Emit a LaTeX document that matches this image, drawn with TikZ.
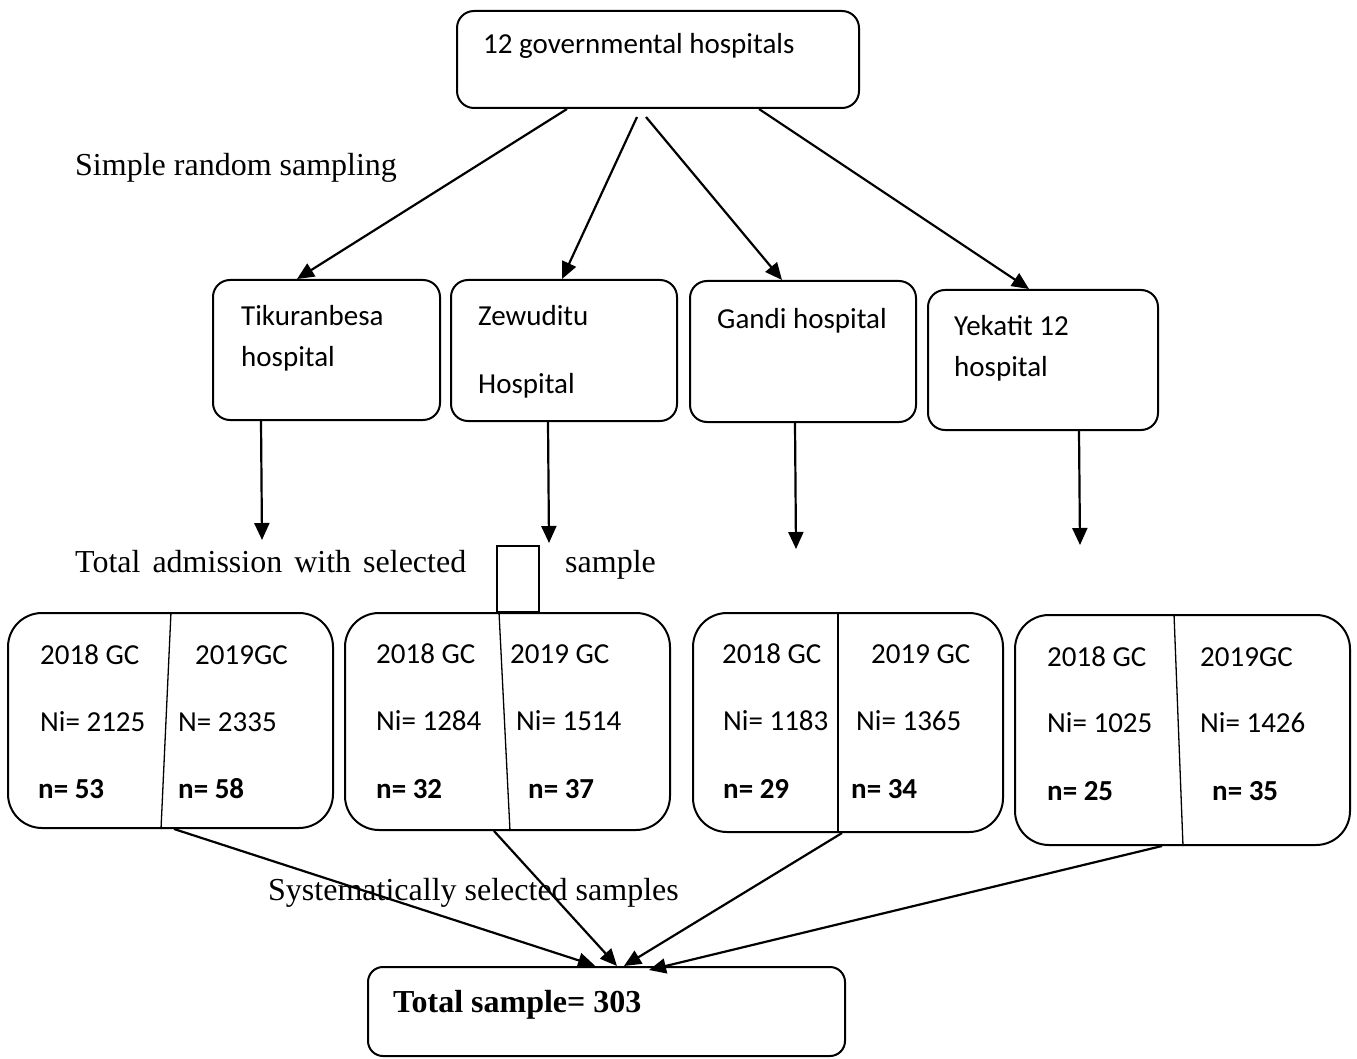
\documentclass[tikz,border=0pt]{standalone}
\usepackage{fontspec}
\setmainfont{Carlito}
\newfontfamily\timesfont{Liberation Serif}
\usetikzlibrary{
  arrows.meta,
  positioning,
}
\tikzset{
  hospbox/.style={
    rectangle,
    rounded corners=17pt,
    draw=black,
    line width=2pt,
    inner sep=0pt,
  },
  databox/.style={
    rectangle,
    rounded corners=34pt,
    draw=black,
    line width=2pt,
    inner sep=0pt,
  },
  cell/.style={
    anchor=base west,
    inner sep=0pt,
    font=\fontsize{29}{34}\selectfont,
  },
  ncell/.style={
    cell,
    font=\fontsize{29}{34}\selectfont\bfseries,
  },
  stagetext/.style={
    anchor=base west,
    inner sep=0pt,
    font=\timesfont\fontsize{32}{38}\selectfont,
  },
  arrow/.style={
    line width=2.2pt,
    -{Triangle[length=17pt, width=15pt]},
  },
  divider/.style={
    line width=1.3pt,
  },
}

\begin{document}
\begin{tikzpicture}[x=1pt, y=-1pt]

  \fill[white] (0,0) rectangle (1357,1059);
  \useasboundingbox (0,0) rectangle (1357,1059);

  % Top box
  \node (govt) [hospbox, minimum width=402pt, minimum height=97pt] at (658,59.5) {};
  \node (govt_txt) [cell] at (483,54) {12 governmental hospitals};
  \node (srs) [stagetext] at (75,176) {Simple random sampling};

  % Hospitals
  \node (tik) [hospbox, minimum width=227pt, minimum height=140pt] at (326.5,350) {};
  \node (zew) [hospbox, minimum width=226pt, minimum height=141pt] at (564,350.5) {};
  \node (gan) [hospbox, minimum width=226pt, minimum height=141pt] at (803,351.5) {};
  \node (yek) [hospbox, minimum width=230pt, minimum height=140pt] at (1043,360) {};

  \node (tik_a) [cell] at (241,325) {Tikuranbesa};
  \node (tik_b) [cell] at (241,366) {hospital};
  \node (zew_a) [cell] at (478,326) {Zewuditu};
  \node (zew_b) [cell] at (478,393) {Hospital};
  \node (gan_a) [cell] at (717,328) {Gandi hospital};
  \node (yek_a) [cell] at (954,335) {Yekatit 12};
  \node (yek_b) [cell] at (954,376) {hospital};

  \coordinate (govt_mid1) at (637,117);
  \coordinate (govt_mid2) at (646,117);

  % Arrows to hospitals
  \draw [arrow] ([xshift=111pt]govt.south west) to ([xshift=85pt]tik.north west);
  \draw [arrow] (govt_mid1) to ([xshift=112pt]zew.north west);
  \draw [arrow] (govt_mid2) to ([xshift=93pt]gan.north west);
  \draw [arrow] ([xshift=303pt]govt.south west) to ([xshift=102pt]yek.north west);

  % Admission
  \coordinate (tik_end) at (262,540);
  \coordinate (zew_end) at (549,543);
  \coordinate (gan_end) at (796,549);
  \coordinate (yek_end) at (1080,545);

  \draw [arrow] ([xshift=49pt]tik.south west) to (tik_end);
  \draw [arrow] ([xshift=98pt]zew.south west) to (zew_end);
  \draw [arrow] ([xshift=106pt]gan.south west) to (gan_end);
  \draw [arrow] ([xshift=152pt]yek.south west) to (yek_end);

  \node (adm) [stagetext] at (75,572) {Total\hspace{4pt} admission\hspace{4pt} with\hspace{4pt} selected};
  \node (adm_b) [stagetext] at (565,572) {sample};
  \node (blank) [draw, line width=2pt, inner sep=0pt,
    minimum width=42pt, minimum height=66pt] at (518,579) {};

  % Sample boxes
  \node (b1) [databox, minimum width=325pt, minimum height=215pt] at (170.5,720.5) {};
  \node (b2) [databox, minimum width=325pt, minimum height=217pt] at (507.5,721.5) {};
  \node (b3) [databox, minimum width=310pt, minimum height=219pt] at (848,722.5) {};
  \node (b4) [databox, minimum width=335pt, minimum height=230pt] at (1182.5,730) {};

  \draw [divider] ([xshift=164pt]b1.north west) -- ([xshift=154pt]b1.south west);
  \draw [divider] ([xshift=155pt]b2.north west) -- ([xshift=166pt]b2.south west);
  \draw [divider] ([xshift=146pt]b3.north west) -- ([xshift=146pt]b3.south west);
  \draw [divider] ([xshift=160pt]b4.north west) -- ([xshift=169pt]b4.south west);

  \node (b1_y1) [cell] at (40,664) {2018 GC};
  \node (b1_y2) [cell] at (195,664) {2019GC};
  \node (b1_N1) [cell] at (40,731) {Ni= 2125};
  \node (b1_N2) [cell] at (178,731) {N= 2335};
  \node (b1_n1) [ncell] at (38,798) {n= 53};
  \node (b1_n2) [ncell] at (178,798) {n= 58};

  \node (b2_y1) [cell] at (376,663) {2018 GC};
  \node (b2_y2) [cell] at (510,663) {2019 GC};
  \node (b2_N1) [cell] at (376,730) {Ni= 1284};
  \node (b2_N2) [cell] at (516,730) {Ni= 1514};
  \node (b2_n1) [ncell] at (376,798) {n= 32};
  \node (b2_n2) [ncell] at (528,798) {n= 37};

  \node (b3_y1) [cell] at (722,663) {2018 GC};
  \node (b3_y2) [cell] at (871,663) {2019 GC};
  \node (b3_N1) [cell] at (723,730) {Ni= 1183};
  \node (b3_N2) [cell] at (856,730) {Ni= 1365};
  \node (b3_n1) [ncell] at (723,798) {n= 29};
  \node (b3_n2) [ncell] at (851,798) {n= 34};

  \node (b4_y1) [cell] at (1047,666) {2018 GC};
  \node (b4_y2) [cell] at (1200,666) {2019GC};
  \node (b4_N1) [cell] at (1047,732) {Ni= 1025};
  \node (b4_N2) [cell] at (1200,732) {Ni= 1426};
  \node (b4_n1) [ncell] at (1047,800) {n= 25};
  \node (b4_n2) [ncell] at (1212,800) {n= 35};

  % Total
  \node (total) [hospbox, rounded corners=15pt, minimum width=477pt, minimum height=89pt] at (606.5,1011.5) {};
  \node (total_txt) [stagetext, font=\timesfont\fontsize{32}{38}\selectfont\bfseries] at (393,1012) {Total sample= 303};
  \node (sys) [stagetext] at (268,900) {Systematically selected samples};

  \draw [arrow, shorten >=1pt] ([xshift=167pt]b1.south west) to ([xshift=229pt]total.north west);
  \draw [arrow] ([xshift=150pt]b2.south west) to ([xshift=250pt]total.north west);
  \draw [arrow] ([xshift=150pt]b3.south west) to ([xshift=257pt]total.north west);
  \draw [arrow] ([xshift=148pt]b4.south west) to ([shift={(282pt,-4pt)}]total.north west);

\end{tikzpicture}
\end{document}
